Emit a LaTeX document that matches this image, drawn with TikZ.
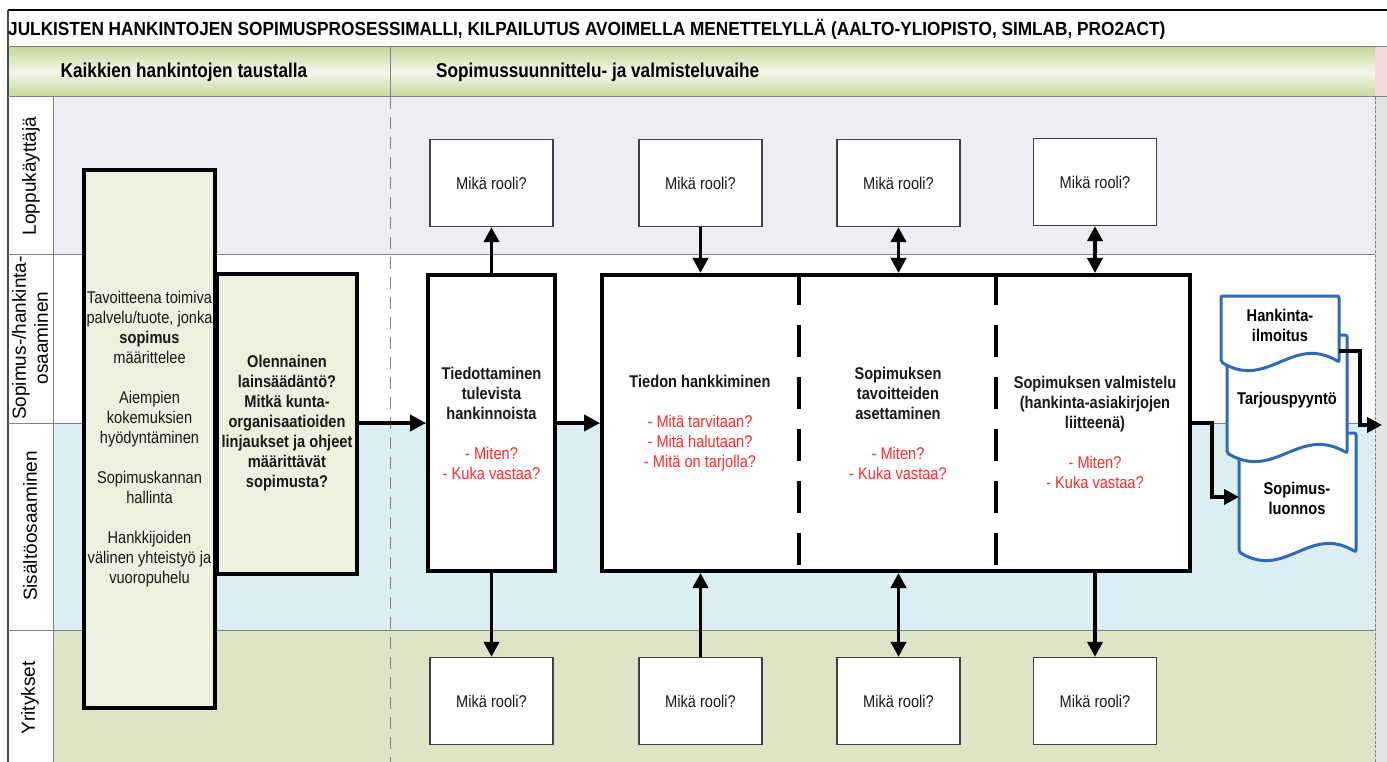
\documentclass[tikz,border=0pt]{standalone}
\usepackage{fontspec}
\setmainfont{Liberation Sans}[FakeStretch=0.86]
\newfontfamily\lanefont{Liberation Sans}
\usetikzlibrary{arrows.meta}
\definecolor{boxgreen}{HTML}{EBF1DE}
\definecolor{laneA}{HTML}{EFEDF3}
\definecolor{laneC}{HTML}{DBEEF3}
\definecolor{laneD}{HTML}{DCE6C7}
\definecolor{hdr}{HTML}{C4D79B}
\definecolor{hdrmid}{HTML}{F3F8EA}
\definecolor{gridgray}{HTML}{808080}
\definecolor{qred}{HTML}{FF2A2A}
\definecolor{docblue}{HTML}{2E6BB4}
\definecolor{stripgray}{HTML}{E3E3E3}
\definecolor{pinkstrip}{HTML}{F4DADA}
\definecolor{rolegray}{HTML}{404040}
\newcommand\redq[1]{\textcolor{qred}{\mdseries #1}}
\begin{document}
\begin{tikzpicture}[x=1pt,y=-1pt,
 body/.style={font=\fontsize{17}{20}\selectfont, align=center, inner sep=0pt, text=black!90},
 bbody/.style={font=\bfseries\fontsize{17}{20}\selectfont},
 bigbox/.style={body, draw=black, line width=4pt, fill=boxgreen},
 procbox/.style={body, draw=black, line width=4pt, fill=white},
 rolebox/.style={body, draw=rolegray, line width=1.3pt, fill=white, minimum width=123pt, minimum height=87pt},
 lanelbl/.style={font=\lanefont\fontsize{19}{22}\selectfont, align=center, rotate=90, inner sep=0pt},
 hdrtxt/.style={font=\bfseries\fontsize{20}{22}\selectfont, inner sep=0pt},
 arr/.style={line width=3.8pt, -{Triangle[length=15pt,width=15pt]}},
 darr/.style={line width=3.8pt, {Triangle[length=15pt,width=15pt]}-{Triangle[length=15pt,width=15pt]}},
 harr/.style={line width=4.3pt, -{Triangle[length=16pt,width=16pt]}},
 gridline/.style={draw=gridgray, line width=1pt},
 docline/.style={draw=docblue, line width=3pt, fill=white, rounded corners=2pt},
 doctxt/.style={font=\bfseries\fontsize{17}{20}\selectfont, align=center, inner sep=0pt}]
\useasboundingbox (0,0) rectangle (1387,762);
% backgrounds
\fill[white] (0,0) rectangle (1387,762);
\fill[laneA] (53,97) rectangle (1375,255);
\fill[laneC] (53,423) rectangle (1375,630);
\fill[laneD] (53,630) rectangle (1375,762);
\fill[stripgray] (1375,97) rectangle (1387,762);
\shade[top color=hdr, bottom color=hdr, middle color=hdrmid] (8,47) rectangle (1375,97);
\fill[pinkstrip] (1375,47) rectangle (1387,97);
% grid lines
\draw[black, line width=1.2pt] (8,10) -- (1387,10);
\draw[black!70, line width=1.2pt] (8,10) -- (8,762);
\draw[gridline] (8,47) -- (1387,47);
\draw[gridline] (8,97) -- (1387,97);
\draw[gridline] (390,47) -- (390,97);
\draw[gridline] (53,97) -- (53,762);
\draw[gridline] (8,255) -- (1375,255);
\draw[gridline] (8,423) -- (1375,423);
\draw[gridline] (8,630) -- (1375,630);
\draw[gridline, dash pattern=on 12pt off 8pt] (390,97) -- (390,762);
\draw[gridline, dash pattern=on 3pt off 1.5pt] (1375,97) -- (1375,762);
% title and header
\node[anchor=west, inner sep=0pt] (title) at (8,29) {\resizebox{1157pt}{\height}{\bfseries\fontsize{19}{22}\selectfont JULKISTEN HANKINTOJEN SOPIMUSPROSESSIMALLI, KILPAILUTUS AVOIMELLA MENETTELYLLÄ (AALTO-YLIOPISTO, SIMLAB, PRO2ACT)}};
\node[hdrtxt] (h1) at (184,72) {Kaikkien hankintojen taustalla};
\node[hdrtxt, anchor=west] (h2) at (436,72) {Sopimussuunnittelu- ja valmisteluvaihe};
% lane labels
\node[lanelbl] (l1) at (31,176) {Loppukäyttäjä};
\node[lanelbl] (l2) at (30,338) {Sopimus-/hankinta-\\osaaminen};
\node[lanelbl] (l3) at (30,526) {Sisältöosaaminen};
\node[lanelbl] (l4) at (30,698) {Yritykset};
% left boxes
\node[bigbox, minimum width=131pt, minimum height=538pt] (lb) at (149.5,439)
 {Tavoitteena toimiva\\palvelu/tuote, jonka\\\textbf{sopimus}\\määrittelee\\[20pt]Aiempien\\kokemuksien\\hyödyntäminen\\[20pt]Sopimuskannan\\hallinta\\[20pt]Hankkijoiden\\välinen yhteistyö ja\\vuoropuhelu};
\node[bigbox, bbody, minimum width=140pt, minimum height=300pt] (ob) at (287,423.5)
 {Olennainen\\lainsäädäntö?\\Mitkä kunta-\\organisaatioiden\\linjaukset ja ohjeet\\määrittävät\\sopimusta?};
% process boxes
\node[procbox, bbody, minimum width=127pt, minimum height=296pt] (tb) at (491.5,423)
 {Tiedottaminen\\tulevista\\hankinnoista\\[20pt]\redq{- Miten?}\\\redq{- Kuka vastaa?}};
\node[procbox, minimum width=588pt, minimum height=296pt] (bb) at (896,423) {};
\draw[line width=4pt, dash pattern=on 32pt off 20pt] (bb.north -| 799,0) -- (bb.south -| 799,0);
\draw[line width=4pt, dash pattern=on 32pt off 20pt] (bb.north -| 996,0) -- (bb.south -| 996,0);
\node[body, bbody] (t1) at (700,423)
 {Tiedon hankkiminen\\[20pt]\redq{- Mitä tarvitaan?}\\\redq{- Mitä halutaan?}\\\redq{- Mitä on tarjolla?}};
\node[body, bbody] (t2) at (898,423)
 {Sopimuksen\\tavoitteiden\\asettaminen\\[20pt]\redq{- Miten?}\\\redq{- Kuka vastaa?}};
\node[body, bbody] (t3) at (1095,432)
 {Sopimuksen valmistelu\\(hankinta-asiakirjojen\\liitteenä)\\[20pt]\redq{- Miten?}\\\redq{- Kuka vastaa?}};
% role boxes
\node[rolebox] (mt1) at (491.5,183) {Mikä rooli?};
\node[rolebox] (mt2) at (700.5,183) {Mikä rooli?};
\node[rolebox] (mt3) at (898.5,183) {Mikä rooli?};
\node[rolebox] (mt4) at (1095,182) {Mikä rooli?};
\node[rolebox] (mb1) at (491.5,701) {Mikä rooli?};
\node[rolebox] (mb2) at (700.5,701) {Mikä rooli?};
\node[rolebox] (mb3) at (898.5,701) {Mikä rooli?};
\node[rolebox] (mb4) at (1095,701) {Mikä rooli?};
% vertical connectors
\draw[arr] (tb.north) -- (mt1.south);
\draw[arr] (mt2.south) -- (mt2.south |- bb.north);
\draw[darr] (mt3.south) -- (mt3.south |- bb.north);
\draw[darr] (mt4.south) -- (mt4.south |- bb.north);
\draw[arr] (tb.south) -- (mb1.north);
\draw[arr] (mb2.north) -- (mb2.north |- bb.south);
\draw[darr] (mb3.north) -- (mb3.north |- bb.south);
\draw[arr] (mb4.north |- bb.south) -- (mb4.north);
% horizontal connectors
\draw[harr] (ob.east |- tb.west) -- (tb.west);
\draw[harr] (tb.east) -- (bb.west);
% documents
\filldraw[docline] (1239,433) -- (1356,433) -- (1356,552) .. controls (1309,524) and (1286,580) .. (1239,552) -- cycle;
\filldraw[docline] (1227,335) -- (1347,335) -- (1347,453) .. controls (1299,425) and (1275,481) .. (1227,453) -- cycle;
\filldraw[docline] (1221,296) -- (1339,296) -- (1339,362) .. controls (1292,334) and (1268,390) .. (1221,362) -- cycle;
\node[doctxt] (d1) at (1280,325) {Hankinta-\\ilmoitus};
\node[doctxt] (d2) at (1287,400) {Tarjouspyyntö};
\node[doctxt] (d3) at (1297,498) {Sopimus-\\luonnos};
\coordinate (d1e) at (1339,351);
\coordinate (d3w) at (1239,497);
\coordinate (outR) at (1382,425);
\draw[arr] (bb.east) -- ++(20,0) |- (d3w);
\draw[arr] (d1e) -- ++(21,0) |- (outR);
\end{tikzpicture}
\end{document}
